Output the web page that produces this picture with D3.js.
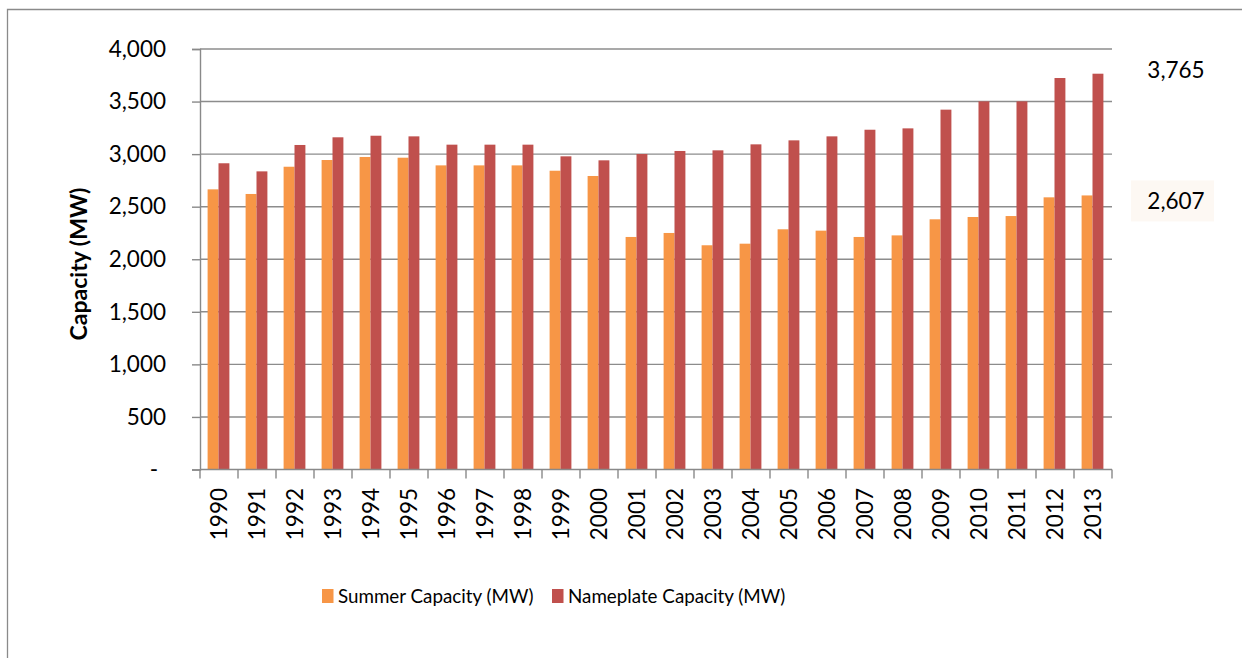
<!DOCTYPE html>
<html>
<head>
<meta charset="utf-8">
<script src="https://cdn.jsdelivr.net/npm/d3@7"></script>
<style>
  body { margin: 0; background: #fff; }
  svg { display: block; font-family: Lato, "Open Sans", sans-serif; }
  .axis { font-family: Lato, "Open Sans", sans-serif; }
  .axis path, .axis line { stroke: #898989; }
  .axis text { fill: #000; font-size: 22.5px; }
</style>
</head>
<body>
<svg id="chart" width="1242" height="658"></svg>
<script>
// ---------------------------------------------------------------------------
// Summer vs nameplate capacity (MW), 1990-2013
// ---------------------------------------------------------------------------

const years = [1990, 1991, 1992, 1993, 1994, 1995, 1996, 1997, 1998, 1999, 2000, 2001,
               2002, 2003, 2004, 2005, 2006, 2007, 2008, 2009, 2010, 2011, 2012, 2013];

const summerCapacity = [2665, 2621, 2880, 2944, 2973, 2966, 2893, 2893, 2893, 2842, 2792, 2212,
                        2250, 2133, 2148, 2285, 2272, 2212, 2227, 2380, 2402, 2411, 2589, 2607];

const nameplateCapacity = [2913, 2836, 3087, 3160, 3175, 3169, 3090, 3090, 3090, 2979, 2941, 3001,
                           3030, 3036, 3093, 3131, 3169, 3232, 3245, 3423, 3502, 3502, 3724, 3765];

const seriesNames = ['Summer Capacity (MW)', 'Nameplate Capacity (MW)'];
const seriesColors = ['#F79646', '#C0504D'];
const yTicks = [0, 500, 1000, 1500, 2000, 2500, 3000, 3500, 4000];

const svg = d3.select('#chart');

// outer chart frame (only top and left edges fall inside the picture)
svg.append('path')
    .attr('d', 'M7.5,658V9.5H1242')
    .attr('fill', 'none')
    .attr('stroke', '#8a8a8a')
    .attr('stroke-width', 1.3);

const plot = { left: 200, right: 1112, top: 49, bottom: 469.5 };

const x = d3.scaleBand().domain(years).range([plot.left, plot.right]).padding(0);
const xSeries = d3.scaleBand().domain([0, 1]).range([7.6, 29.4]).padding(0);
const y = d3.scaleLinear().domain([0, 4000]).range([plot.bottom, plot.top]);

// Grid lines
svg.append('g')
    .selectAll('line')
    .data(yTicks.filter(d => d > 0))
    .join('line')
    .attr('x1', plot.left).attr('x2', plot.right)
    .attr('y1', d => y(d)).attr('y2', d => y(d))
    .attr('stroke', '#8c8c8c')
    .attr('stroke-width', 1.4);

// Bars
const rows = years.map((yr, i) => ({ year: yr, values: [summerCapacity[i], nameplateCapacity[i]] }));

svg.append('g')
    .selectAll('g')
    .data(rows)
    .join('g')
    .attr('transform', d => `translate(${x(d.year)},0)`)
    .selectAll('rect')
    .data(d => d.values.map((v, k) => ({ v, k })))
    .join('rect')
    .attr('x', d => xSeries(d.k))
    .attr('width', xSeries.bandwidth())
    .attr('y', d => y(d.v))
    .attr('height', d => y(0) - y(d.v))
    .attr('fill', d => seriesColors[d.k]);

// Y axis
const yAxis = svg.append('g')
    .attr('class', 'axis')
    .attr('transform', `translate(${plot.left},0)`)
    .call(d3.axisLeft(y).tickValues(yTicks).tickSize(8).tickPadding(26)
        .tickFormat(d => d === 0 ? '-' : d3.format(',')(d)));
yAxis.attr('font-family', null);
yAxis.select('.domain').attr('stroke-width', 1.4);
yAxis.selectAll('line').attr('stroke-width', 1.4);
yAxis.selectAll('.tick').filter(d => d === 0).select('text').attr('x', -42);

// X axis: labels at band centres, tick marks at band boundaries
const xAxis = svg.append('g')
    .attr('class', 'axis')
    .attr('transform', `translate(0,${plot.bottom})`)
    .call(d3.axisBottom(x).tickSize(0));
xAxis.attr('font-family', null);
xAxis.select('.domain').remove();
xAxis.selectAll('text')
    .attr('transform', 'rotate(-90)')
    .attr('text-anchor', 'end')
    .attr('x', -18.5)
    .attr('y', 0)
    .attr('dy', '0.36em');

const boundaries = years.map(d => x(d)).concat([plot.right]);
xAxis.append('line')
    .attr('x1', plot.left).attr('x2', plot.right)
    .attr('stroke', '#898989').attr('stroke-width', 1.4);
xAxis.selectAll('.bound')
    .data(boundaries)
    .join('line')
    .attr('class', 'bound')
    .attr('x1', d => d).attr('x2', d => d)
    .attr('y1', 0).attr('y2', 9)
    .attr('stroke', '#898989').attr('stroke-width', 1.4);

// Y axis title
svg.append('text')
    .attr('transform', 'translate(87,264) rotate(-90)')
    .attr('text-anchor', 'middle')
    .attr('font-size', 23)
    .attr('font-weight', 'bold')
    .text('Capacity (MW)');

// End-value callouts
const last = years.length - 1;
svg.append('rect')
    .attr('x', 1131).attr('y', y(summerCapacity[last]) - 15)
    .attr('width', 83).attr('height', 41)
    .attr('fill', '#FDF8F3');
svg.append('text')
    .attr('x', 1176).attr('y', y(summerCapacity[last]) + 5)
    .attr('text-anchor', 'middle')
    .attr('dy', '0.36em')
    .attr('font-size', 22.5)
    .text(d3.format(',')(summerCapacity[last]));
svg.append('text')
    .attr('x', 1176).attr('y', 70)
    .attr('text-anchor', 'middle')
    .attr('dy', '0.36em')
    .attr('font-size', 22.5)
    .text(d3.format(',')(nameplateCapacity[last]));

// Legend
const legendX = [322, 552];
const legend = svg.append('g')
    .selectAll('g')
    .data(seriesNames)
    .join('g')
    .attr('transform', (d, i) => `translate(${legendX[i]},589)`);
legend.append('rect')
    .attr('width', 11.5).attr('height', 14)
    .attr('fill', (d, i) => seriesColors[i]);
legend.append('text')
    .attr('x', 16).attr('y', 7)
    .attr('dy', '0.36em')
    .attr('font-size', 18.8)
    .text(d => d);
</script>
</body>
</html>
